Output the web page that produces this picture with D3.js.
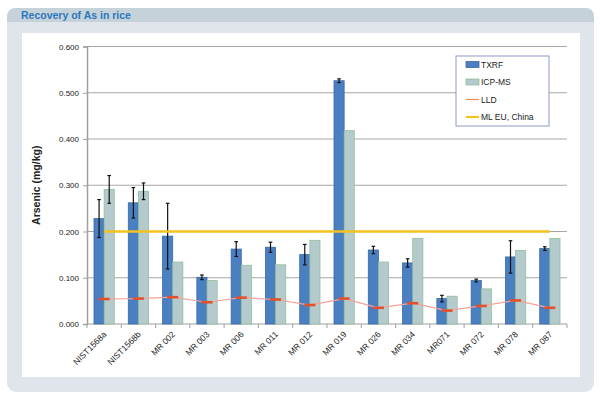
<!DOCTYPE html>
<meta charset="utf-8">
<head>
  <meta charset="utf-8">
  <title>Recovery of As in rice</title>
  <style>
    body { margin: 0; background: #fff; }
    svg { display: block; font-family: "Liberation Sans", Arial, sans-serif; }
  </style>
</head>
<body>
<script src="https://cdn.jsdelivr.net/npm/d3@7"></script>
<script>

// data
var samples = ["NIST1568a", "NIST1568b", "MR 002", "MR 003", "MR 006", "MR 011", "MR 012",
               "MR 019", "MR 026", "MR 034", "MR071", "MR 072", "MR 078", "MR 087"];
var txrf    = [0.228, 0.262, 0.190, 0.101, 0.162, 0.166, 0.150, 0.526, 0.160, 0.132, 0.055, 0.094, 0.145, 0.163];
var txrfErr = [0.041, 0.033, 0.071, 0.005, 0.016, 0.011, 0.022, 0.004, 0.008, 0.009, 0.007, 0.003, 0.035, 0.004];
var icpms   = [0.291, 0.287, 0.134, 0.094, 0.127, 0.128, 0.181, 0.418, 0.134, 0.185, 0.060, 0.076, 0.159, 0.185];
var icpErr  = [0.030, 0.018, null, null, null, null, null, null, null, null, null, null, null, null];
var lld     = [0.054, 0.055, 0.058, 0.047, 0.057, 0.053, 0.041, 0.055, 0.035, 0.045, 0.029, 0.039, 0.051, 0.035];
var mlEU = 0.2;
var yTicks = [0, 0.1, 0.2, 0.3, 0.4, 0.5, 0.6];
var series = ["TXRF", "ICP-MS"];

var W = 600, H = 399;
var svg = d3.select("body").append("svg")
    .attr("width", W)
    .attr("height", H);

// panel frame
svg.append("rect").attr("x", 7).attr("y", 8).attr("width", 587).attr("height", 384)
    .attr("rx", 9).attr("fill", "#dfe5ea");
svg.append("path")
    .attr("d", "M7,22 L7,17 Q7,8 16,8 L585,8 Q594,8 594,17 L594,22 Z")
    .attr("fill", "#c6d2d9");
svg.append("rect").attr("x", 22).attr("y", 33).attr("width", 558).attr("height", 344)
    .attr("fill", "#ffffff");
svg.append("text").attr("x", 21).attr("y", 19)
    .attr("font-size", "10.5px").attr("font-weight", "bold")
    .attr("fill", "#2a78bd")
    .text("Recovery of As in rice");

// set the dimensions of the plot
var margin = {top: 46.5, left: 87, right: 567, bottom: 324};

var x = d3.scaleBand()
    .domain(samples)
    .range([margin.left, margin.right]);

var xs = d3.scaleBand()
    .domain(series)
    .range([7, x.bandwidth() - 7]);

var y = d3.scaleLinear()
    .domain([0, 0.6])
    .range([margin.bottom, margin.top]);

// gridlines
svg.append("g")
  .selectAll("line")
  .data(yTicks.slice(1))
  .enter().append("line")
    .attr("x1", margin.left).attr("x2", margin.right)
    .attr("y1", function(d) { return y(d); })
    .attr("y2", function(d) { return y(d); })
    .attr("stroke", "#a6a6a6").attr("stroke-width", 1);

// y axis
var yAxis = svg.append("g")
    .attr("transform", "translate(" + margin.left + ",0)")
    .call(d3.axisLeft(y).tickValues(yTicks).tickFormat(d3.format(".3f")).tickSizeOuter(0).tickSize(4));
yAxis.select(".domain").attr("stroke", "#a0a0a0").attr("stroke-width", 1.5);
yAxis.selectAll(".tick line").attr("stroke", "#a0a0a0");
yAxis.selectAll(".tick text")
    .attr("font-size", "8px").attr("fill", "#222")
    .attr("font-family", "Liberation Sans, Arial, sans-serif")
    .attr("x", -8);

svg.append("text")
    .attr("transform", "translate(40," + y(0.3) + ") rotate(-90)")
    .attr("text-anchor", "middle")
    .attr("font-size", "10.5px").attr("font-weight", "bold").attr("fill", "#222")
    .text("Arsenic (mg/kg)");

// x axis: ticks between categories
var xAxis = svg.append("g")
    .attr("transform", "translate(0," + margin.bottom + ")");
xAxis.append("line")
    .attr("x1", margin.left).attr("x2", margin.right)
    .attr("stroke", "#a0a0a0").attr("stroke-width", 1.2);
xAxis.selectAll(".tk")
    .data(samples.concat(["end"]))
  .enter().append("line")
    .attr("x1", function(d, i) { return i < samples.length ? x(d) : margin.right; })
    .attr("x2", function(d, i) { return i < samples.length ? x(d) : margin.right; })
    .attr("y1", 0).attr("y2", 4)
    .attr("stroke", "#a0a0a0");
xAxis.selectAll(".lbl")
    .data(samples)
  .enter().append("text")
    .attr("transform", function(d) {
      return "translate(" + (x(d) + x.bandwidth() / 2 + 3) + ",11) rotate(-45)";
    })
    .attr("text-anchor", "end")
    .attr("font-size", "8.5px").attr("fill", "#222")
    .text(function(d) { return d; });

// bars
var rows = samples.map(function(s, i) {
  return {sample: s, vals: [
    {key: "TXRF", v: txrf[i], e: txrfErr[i]},
    {key: "ICP-MS", v: icpms[i], e: icpErr[i]}
  ]};
});

var color = {"TXRF": "#4a7fc1", "ICP-MS": "#b5cacd"};
var edge  = {"TXRF": "#3b6aa6", "ICP-MS": "#8fbf9a"};

var groups = svg.selectAll(".grp")
    .data(rows)
  .enter().append("g")
    .attr("transform", function(d) { return "translate(" + x(d.sample) + ",0)"; });

groups.selectAll("rect")
    .data(function(d) { return d.vals; })
  .enter().append("rect")
    .attr("x", function(d) { return xs(d.key); })
    .attr("width", xs.bandwidth())
    .attr("y", function(d) { return y(d.v); })
    .attr("height", function(d) { return y(0) - y(d.v); })
    .attr("fill", function(d) { return color[d.key]; })
    .attr("stroke", function(d) { return edge[d.key]; })
    .attr("stroke-width", 0.8);

// error bars
var eb = groups.selectAll(".err")
    .data(function(d) { return d.vals.filter(function(v) { return v.e != null; }); })
  .enter().append("g")
    .attr("stroke", "#111").attr("stroke-width", 1.2);
eb.append("line")
    .attr("x1", function(d) { return xs(d.key) + xs.bandwidth() / 2; })
    .attr("x2", function(d) { return xs(d.key) + xs.bandwidth() / 2; })
    .attr("y1", function(d) { return y(d.v + d.e); })
    .attr("y2", function(d) { return y(d.v - d.e); });
[1, -1].forEach(function(sg) {
  eb.append("line")
    .attr("x1", function(d) { return xs(d.key) + xs.bandwidth() / 2 - 1.8; })
    .attr("x2", function(d) { return xs(d.key) + xs.bandwidth() / 2 + 1.8; })
    .attr("y1", function(d) { return y(d.v + sg * d.e); })
    .attr("y2", function(d) { return y(d.v + sg * d.e); });
});

// ML EU, China line
var cx = function(s) { return x(s) + x.bandwidth() / 2; };
svg.append("line")
    .attr("x1", cx(samples[0])).attr("x2", cx(samples[samples.length - 1]))
    .attr("y1", y(mlEU)).attr("y2", y(mlEU))
    .attr("stroke", "#f2c21e").attr("stroke-width", 2.5);

// LLD line with dash markers
var lldLine = d3.line()
    .x(function(d, i) { return cx(samples[i]); })
    .y(function(d) { return y(d); });
svg.append("path")
    .datum(lld)
    .attr("d", lldLine)
    .attr("fill", "none")
    .attr("stroke", "#f3a39a").attr("stroke-width", 1.2);
svg.selectAll(".lldm")
    .data(lld)
  .enter().append("line")
    .attr("x1", function(d, i) { return cx(samples[i]) - 5.5; })
    .attr("x2", function(d, i) { return cx(samples[i]) + 5.5; })
    .attr("y1", function(d) { return y(d); })
    .attr("y2", function(d) { return y(d); })
    .attr("stroke", "#e2502c").attr("stroke-width", 2.6);

// legend
var lg = svg.append("g").attr("transform", "translate(456,56)");
lg.append("rect").attr("width", 93).attr("height", 70)
    .attr("fill", "#fff").attr("stroke", "#8c9ac8").attr("stroke-width", 1);
var items = ["TXRF", "ICP-MS", "LLD", "ML EU, China"];
items.forEach(function(name, i) {
  var yy = 8.5 + i * 17.5;
  if (i < 2) {
    lg.append("rect").attr("x", 10).attr("y", yy - 3).attr("width", 13).attr("height", 6)
      .attr("fill", color[name]).attr("stroke", edge[name]).attr("stroke-width", 0.8);
  } else {
    lg.append("line").attr("x1", 10).attr("x2", 23).attr("y1", yy).attr("y2", yy)
      .attr("stroke", i == 2 ? "#ee8a55" : "#f2c21e")
      .attr("stroke-width", i == 2 ? 1.2 : 2.2);
  }
  lg.append("text").attr("x", 25).attr("y", yy + 3)
    .attr("font-size", "8.5px").attr("fill", "#222")
    .text(name);
});

</script>
</body>
